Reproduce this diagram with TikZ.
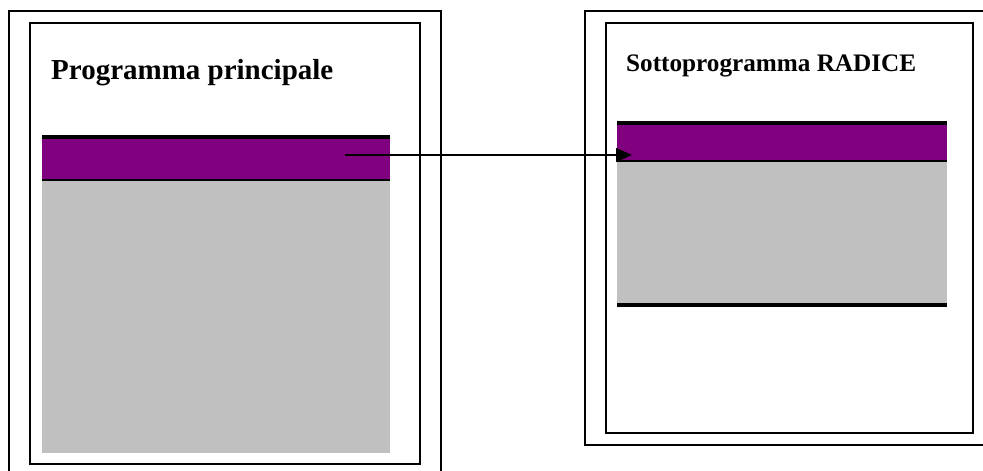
\documentclass[tikz,border=0pt]{standalone}
\usepackage{fontspec}
\setmainfont{Liberation Serif}
\usetikzlibrary{arrows.meta}
\definecolor{band}{HTML}{800080}
\definecolor{body}{HTML}{C0C0C0}

\begin{document}
\begin{tikzpicture}[x=1pt,y=-1pt,
    frame/.style={draw,line width=1.8pt},
    title/.style={anchor=base west,inner sep=0pt,font=\bfseries}]
  \useasboundingbox (0,0) rectangle (983,471);
  % main program
  \draw[frame] (9,471) -- (9,11) -- (441,11) -- (441,471);
  \draw[frame] (30,23) rectangle (420,464);
  \node[title,font=\bfseries\fontsize{29}{32}\selectfont] (main) at (51,79) {Programma principale};
  \fill[body] (42,180) rectangle (390,453);
  \node[fill=band,inner sep=0pt,anchor=north west,minimum width=348pt,minimum height=43pt] (mainband) at (42,137) {};
  \draw[line width=3.5pt] (mainband.north west) -- (mainband.north east);
  \draw[line width=2pt] (mainband.south west) -- (mainband.south east);
  % subprogram
  \draw[frame] (983,11) -- (585,11) -- (585,445) -- (983,445);
  \draw[frame] (606,23) rectangle (973,433);
  \node[title,font=\bfseries\fontsize{25.2}{28}\selectfont] (sub) at (626,71) {Sottoprogramma RADICE};
  \fill[body] (617,161) rectangle (947,303);
  \node[fill=band,inner sep=0pt,anchor=north west,minimum width=330pt,minimum height=38pt] (subband) at (617,123) {};
  \draw[line width=3.5pt] (subband.north west) -- (subband.north east);
  \draw[line width=2pt] (subband.south west) -- (subband.south east);
  \draw[line width=4pt] (617,305) -- (947,305);
  % call
  \coordinate (call) at (345,155);
  \coordinate (entry) at (632,155);
  \draw[line width=1.4pt,-{Triangle[length=16pt,width=14pt]}] (call) -- (entry);
\end{tikzpicture}
\end{document}
